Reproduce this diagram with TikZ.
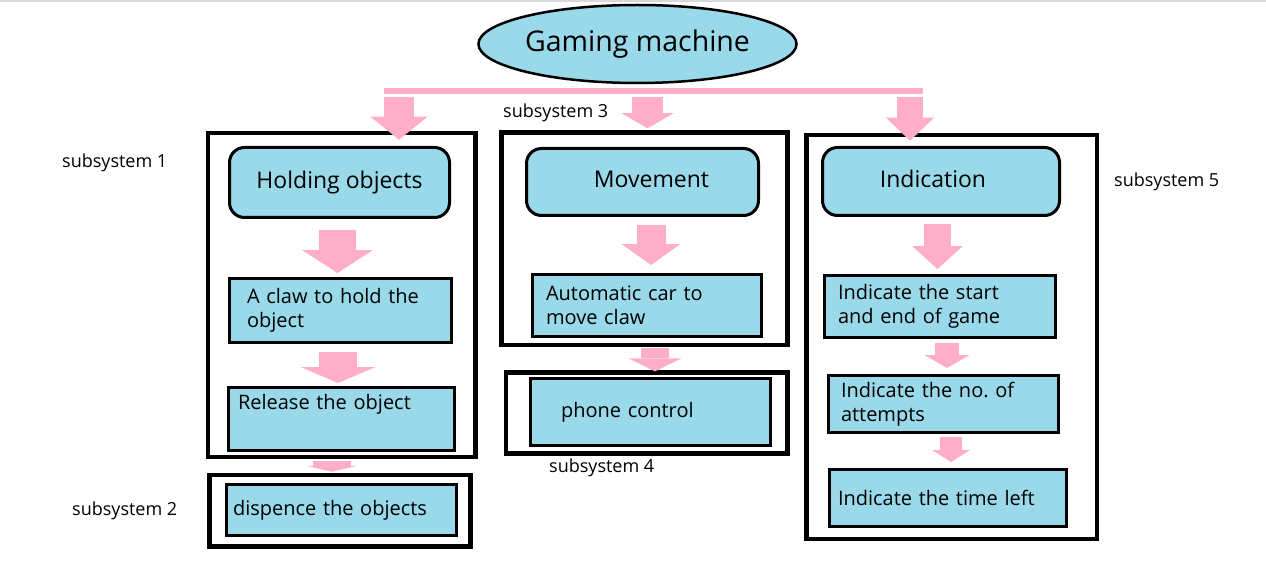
\documentclass[tikz,border=0pt]{standalone}
\usepackage{fontspec}
\setmainfont{Open Sans}
\usetikzlibrary{shapes.geometric,arrows.meta}
\definecolor{turq}{HTML}{99D9EA}
\definecolor{rose}{HTML}{FFAEC9}

\begin{document}
\begin{tikzpicture}[x=1pt,y=-1pt,
  every node/.style={inner sep=0pt},
  mainnode/.style={draw,ellipse,fill=turq,line width=2.5pt,minimum width=318pt,minimum height=78pt,font=\fontsize{28.5}{34}\selectfont},
  titlebox/.style={draw,fill=turq,line width=3pt,rounded corners=15pt,text height=17pt,text depth=5pt,font=\fontsize{23}{28}\selectfont},
  itembox/.style={draw,fill=turq,line width=3pt,align=left,font=\fontsize{20}{24.5}\selectfont},
  subbox/.style={draw,line width=4.5pt},
  sublabel/.style={anchor=base west,font=\fontsize{18}{22}\selectfont},
  pinkarrow/.style n args={3}{draw=rose,line width=#1,-{Triangle[width=#2,length=#3,line width=0pt]}}
  ]
  \useasboundingbox (0,0) rectangle (1266,572);
  %\draw[help lines,step=50] (0,0) grid (1266,572);
  \draw[black!15,line width=1.5pt] (0,1) -- (1266,1);

  \draw (637.5,44) node[mainnode](gm) {Gaming machine};

  \draw (341.75,295)  node[subbox,minimum width=267.5pt,minimum height=324pt](sub1) {};
  \draw (340,510.75)  node[subbox,minimum width=261pt,minimum height=71.5pt](sub2) {};
  \draw (644.5,238.75) node[subbox,minimum width=286pt,minimum height=212.5pt](sub3) {};
  \draw (646.7,413)   node[subbox,minimum width=281.7pt,minimum height=80.8pt](sub4) {};
  \draw (951.75,337.1) node[subbox,minimum width=290.5pt,minimum height=404.2pt](sub5) {};

  \draw (62,168)   node[sublabel](lab1) {subsystem 1};
  \draw (72,515)   node[sublabel](lab2) {subsystem 2};
  \draw (503,118)  node[sublabel](lab3) {subsystem 3};
  \draw (549,472)  node[sublabel](lab4) {subsystem 4};
  \draw (1114,187) node[sublabel](lab5) {subsystem 5};

  \draw (339.5,182.5) node[titlebox,minimum width=220pt,minimum height=70pt](hold) {Holding objects};
  \draw (642.5,182)   node[titlebox,minimum width=232pt,minimum height=67pt](move) {\hspace*{18pt}Movement};
  \draw (941,181.5)   node[titlebox,minimum width=237pt,minimum height=68pt](ind) {Indication\hspace*{16pt}};

  \draw (340.5,310.5) node[itembox,minimum width=222pt,minimum height=64pt,text width=187pt](claw) {A claw to hold the\\object};
  \draw (341.5,419)   node[itembox,minimum width=226pt,minimum height=63pt,text width=207pt](release) {Release the object\\[9pt]~};
  \draw (341.5,510)   node[itembox,minimum width=230pt,minimum height=51pt,text width=217pt](dispense) {dispence the objects};

  \draw (647,305.5)   node[itembox,minimum width=229pt,minimum height=62pt,text width=202pt](car) {Automatic car to\\move claw};
  \draw (650.5,412)   node[itembox,minimum width=240pt,minimum height=67pt,text width=179pt](phone) {phone control};

  \draw (940,306.5)   node[itembox,minimum width=231pt,minimum height=62pt,text width=204pt](startend) {Indicate the start\\and end of game};
  \draw (943.5,404)   node[itembox,minimum width=230pt,minimum height=57pt,text width=205pt](attempts) {Indicate the no.\ of\\attempts};
  \draw (948,498)     node[itembox,minimum width=237pt,minimum height=57pt,text width=220pt](timeleft) {Indicate the time left};

  % pink bar under the title
  \coordinate (barL) at (384,91);
  \coordinate (barR) at (923,91);
  \path[draw=rose,line width=5.5pt] (barL) -- (barR);

  \coordinate (b1) at (399,97);
  \coordinate (b2) at (647.5,97);
  \coordinate (b3) at (910,97);
  \path[pinkarrow={30pt}{57pt}{23pt},shorten >=-9pt] (b1) -- (b1 |- sub1.north);
  \path[pinkarrow={31pt}{52pt}{15pt},shorten >=2pt]  (b2) -- (b2 |- sub3.north);
  \path[pinkarrow={26pt}{48pt}{23pt},shorten >=-8pt] (b3) -- (b3 |- sub5.north);

  \path[pinkarrow={37pt}{71pt}{23pt},shorten <=11pt,shorten >=4pt] ([xshift=-2pt]hold.south) -- ([xshift=-2pt]hold.south |- claw.north);
  \path[pinkarrow={38pt}{75pt}{16pt},shorten <=8pt,shorten >=3pt] ([xshift=-2.5pt]claw.south) -- ([xshift=-2.5pt]claw.south |- release.north);
  \path[pinkarrow={38pt}{51pt}{6pt},shorten <=2pt,shorten >=1pt] ([xshift=-10pt]sub1.south) -- ([xshift=-10pt]sub1.south |- sub2.north);

  \path[pinkarrow={29pt}{59pt}{21pt},shorten <=8pt,shorten >=8pt] ([xshift=8.5pt]move.south) -- ([xshift=8.5pt]move.south |- car.north);
  \path[pinkarrow={28pt}{53pt}{13pt},shorten <=1pt,shorten >=-1pt] ([xshift=10.5pt]sub3.south) -- ([xshift=10.5pt]sub3.south |- sub4.north);

  \path[pinkarrow={27pt}{51pt}{23pt},shorten <=7.5pt,shorten >=5pt] ([xshift=-3.5pt]ind.south) -- ([xshift=-3.5pt]ind.south |- startend.north);
  \path[pinkarrow={24pt}{45pt}{13pt},shorten <=4pt,shorten >=6pt] ([xshift=7pt]startend.south) -- ([xshift=7pt]startend.south |- attempts.north);
  \path[pinkarrow={22pt}{38pt}{12pt},shorten <=3pt,shorten >=6pt] ([xshift=7.5pt]attempts.south) -- ([xshift=7.5pt]attempts.south |- timeleft.north);

\end{tikzpicture}
\end{document}
